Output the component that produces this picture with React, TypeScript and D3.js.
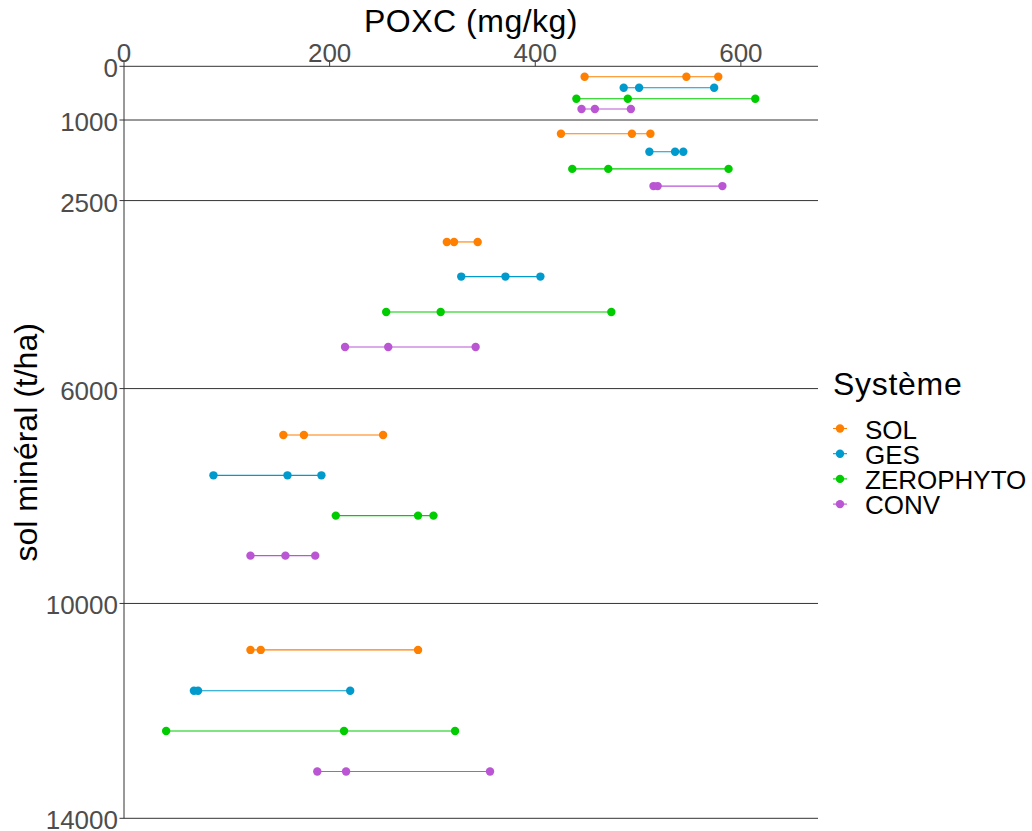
import React from 'react'
import * as d3 from 'd3'

const systems = ['SOL', 'GES', 'ZEROPHYTO', 'CONV']
const colors = ['#FF7F00', '#009ACD', '#00CD00', '#BA55D3']
const depthTicks = [0, 1000, 2500, 6000, 10000, 14000]
const poxcTicks = [0, 200, 400, 600]

// depth (t/ha) at which each system's row sits, one list per layer
const rowDepths = [
  [195, 400, 605, 795],
  [1255, 1590, 1910, 2230],
  [3270, 3915, 4575, 5225],
  [6865, 7615, 8365, 9110],
  [10865, 11625, 12375, 13130],
]

// POXC (mg/kg), three values per layer
const solValues = [[448, 547, 578], [425, 494, 512], [314, 321, 344], [155, 175, 252], [123, 133, 286]]
const gesValues = [[486, 501, 574], [511, 536, 544], [328, 371, 405], [87, 159, 192], [68, 72, 220]]
const zeroValues = [[440, 490, 614], [436, 471, 588], [255, 308, 474], [206, 286, 301], [41, 214, 322]]
const convValues = [[445, 458, 493], [515, 519, 582], [215, 257, 342], [123, 157, 186], [188, 216, 356]]

const seriesValues = [solValues, gesValues, zeroValues, convValues]

const width = 1032
const height = 831
const margin = { top: 66.3, left: 124, right: 214, bottom: 12.7 }
const font = '"Liberation Sans", Arial, sans-serif'

export default function App() {
  const x = d3.scaleLinear().domain([0, 675]).range([margin.left, width - margin.right])
  const y = d3.scaleLinear().domain([0, 14000]).range([margin.top, height - margin.bottom])
  const [x0, x1] = x.range()
  const [y0, y1] = y.range()

  const rows = systems.flatMap((s, si) =>
    seriesValues[si].map((vals, li) => ({
      system: s,
      color: colors[si],
      depth: rowDepths[li][si],
      vals,
    }))
  )

  const legendTop = 428.5
  const legendStep = 25.2

  return (
    <svg width={width} height={height} style={{ position: 'absolute', left: 0, top: 0, background: '#fff' }} fontFamily={font}>
      {/* horizontal layer lines */}
      {depthTicks.map(t => (
        <line key={'h' + t} x1={x0} x2={x1} y1={y(t)} y2={y(t)} stroke="#333" strokeWidth={1} />
      ))}
      {/* axis line */}
      <line x1={x0} x2={x0} y1={y0} y2={y1} stroke="#333" strokeWidth={1} />

      {/* y ticks */}
      {depthTicks.map(t => (
        <g key={'yt' + t}>
          <line x1={x0 - 4.5} x2={x0} y1={y(t)} y2={y(t)} stroke="#333" />
          <text x={x0 - 6} y={y(t) + 11} textAnchor="end" fontSize={26} fill="#4D4D4D">{t}</text>
        </g>
      ))}
      {/* x ticks (top) */}
      {poxcTicks.map(t => (
        <g key={'xt' + t}>
          <line x1={x(t)} x2={x(t)} y1={y0 - 4.5} y2={y0} stroke="#333" />
          <text x={x(t)} y={y0 - 4.5} textAnchor="middle" fontSize={26} fill="#4D4D4D">{t}</text>
        </g>
      ))}

      {/* axis titles */}
      <text x={(x0 + x1) / 2} y={32} textAnchor="middle" fontSize={32} letterSpacing={0.5} fill="#000">POXC (mg/kg)</text>
      <text transform={`translate(36.5,${(y0 + y1) / 2}) rotate(-90)`} textAnchor="middle" fontSize={32} fill="#000">sol minéral (t/ha)</text>

      {/* range segments */}
      {rows.map((r, i) => (
        <line key={'seg' + i} x1={x(d3.min(r.vals))} x2={x(d3.max(r.vals))} y1={y(r.depth)} y2={y(r.depth)}
          stroke={r.color} strokeWidth={1.1} />
      ))}
      {/* points */}
      {rows.map((r, i) =>
        r.vals.map((v, j) => (
          <circle key={'pt' + i + '-' + j} cx={x(v)} cy={y(r.depth)} r={4.2} fill={r.color} />
        ))
      )}

      {/* legend */}
      <text x={833} y={395} fontSize={32} letterSpacing={0.7} fill="#000">Système</text>
      {systems.map((s, i) => {
        const ly = legendTop + i * legendStep
        return (
          <g key={'lg' + s}>
            <line x1={833} x2={847} y1={ly} y2={ly} stroke={colors[i]} strokeWidth={1.1} />
            <circle cx={840} cy={ly} r={4.2} fill={colors[i]} />
            <text x={865} y={ly + 10} fontSize={26} fill="#000">{s}</text>
          </g>
        )
      })}
    </svg>
  )
}
